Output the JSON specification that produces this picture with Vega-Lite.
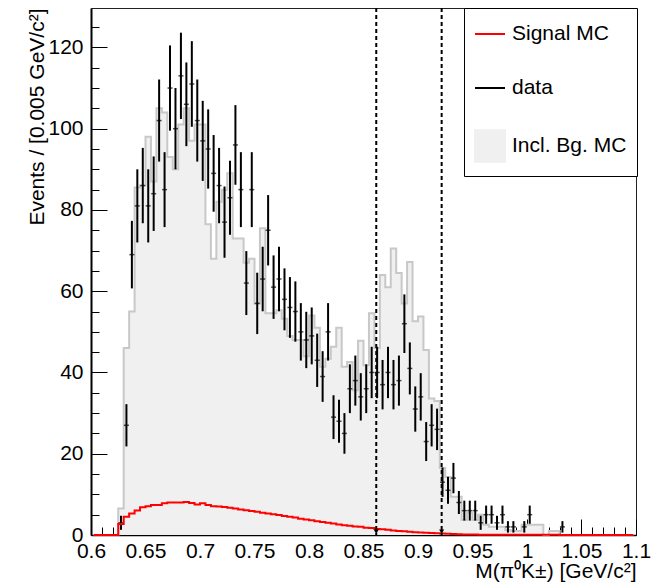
{
"$schema":"https://vega.github.io/schema/vega-lite/v6.json",
"width":545,"height":527,
"autosize":{"type":"none"},
"padding":{"left":91,"top":8,"right":26,"bottom":48},
"background":"white",
"config":{
 "font":"Liberation Sans",
 "view":{"stroke":"#222","strokeWidth":1},
 "axis":{"zindex":1,"grid":false,"labelFont":"Liberation Sans","titleFont":"Liberation Sans","labelColor":"black","titleColor":"black","domainColor":"black","tickColor":"black","labelFlush":false,"labelOverlap":false,"labelBound":false,"titleFontWeight":"normal","tickWidth":1}
},
"data":{"values":[
{"m":0.6025,"n":0,"e":0,"bg":0,"sig":0},
{"m":0.6075,"n":0,"e":0,"bg":0,"sig":0},
{"m":0.6125,"n":0,"e":0,"bg":0,"sig":0},
{"m":0.6175,"n":0,"e":0,"bg":0,"sig":0},
{"m":0.6225,"n":0,"e":0,"bg":0,"sig":0},
{"m":0.6275,"n":3,"e":1.73,"bg":6.5,"sig":2.7},
{"m":0.6325,"n":27,"e":5.2,"bg":46,"sig":4.5},
{"m":0.6375,"n":69,"e":8.31,"bg":55,"sig":5.3},
{"m":0.6425,"n":81,"e":9,"bg":85.5,"sig":6.0},
{"m":0.6475,"n":86,"e":9.27,"bg":86,"sig":6.8},
{"m":0.6525,"n":81,"e":9,"bg":98,"sig":7.1},
{"m":0.6575,"n":84,"e":9.17,"bg":87,"sig":7.4},
{"m":0.6625,"n":102,"e":10.1,"bg":105,"sig":7.4},
{"m":0.6675,"n":85,"e":9.22,"bg":104,"sig":7.8},
{"m":0.6725,"n":110,"e":10.49,"bg":93,"sig":8.0},
{"m":0.6775,"n":100,"e":10,"bg":90,"sig":8.0},
{"m":0.6825,"n":113,"e":10.63,"bg":101,"sig":8.0},
{"m":0.6875,"n":106,"e":10.3,"bg":105,"sig":8.1},
{"m":0.6925,"n":111,"e":10.54,"bg":97,"sig":7.9},
{"m":0.6975,"n":102,"e":10.1,"bg":101,"sig":7.5},
{"m":0.7025,"n":97,"e":9.85,"bg":101,"sig":7.8},
{"m":0.7075,"n":95,"e":9.75,"bg":76.5,"sig":7.4},
{"m":0.7125,"n":89,"e":9.43,"bg":68,"sig":7.1},
{"m":0.7175,"n":86,"e":9.27,"bg":82,"sig":7.0},
{"m":0.7225,"n":77,"e":8.77,"bg":85,"sig":6.9},
{"m":0.7275,"n":83,"e":9.11,"bg":89,"sig":6.7},
{"m":0.7325,"n":96,"e":9.8,"bg":73,"sig":6.5},
{"m":0.7375,"n":85,"e":9.22,"bg":73,"sig":6.3},
{"m":0.7425,"n":62,"e":7.87,"bg":67,"sig":6.1},
{"m":0.7475,"n":85,"e":9.22,"bg":68,"sig":5.9},
{"m":0.7525,"n":57,"e":7.55,"bg":57,"sig":5.7},
{"m":0.7575,"n":63,"e":7.94,"bg":75.5,"sig":5.5},
{"m":0.7625,"n":75,"e":8.66,"bg":54.6,"sig":5.3},
{"m":0.7675,"n":61,"e":7.81,"bg":54.6,"sig":5.1},
{"m":0.7725,"n":63,"e":7.94,"bg":55.3,"sig":4.9},
{"m":0.7775,"n":58,"e":7.62,"bg":53.2,"sig":4.7},
{"m":0.7825,"n":56,"e":7.48,"bg":49,"sig":4.5},
{"m":0.7875,"n":55,"e":7.42,"bg":48,"sig":4.3},
{"m":0.7925,"n":50,"e":7.07,"bg":48,"sig":4.0},
{"m":0.7975,"n":48,"e":6.93,"bg":44,"sig":3.8},
{"m":0.8025,"n":49,"e":7,"bg":54,"sig":3.6},
{"m":0.8075,"n":43,"e":6.56,"bg":51,"sig":3.4},
{"m":0.8125,"n":39,"e":6.24,"bg":41.4,"sig":3.2},
{"m":0.8175,"n":50,"e":7.07,"bg":43.4,"sig":3.0},
{"m":0.8225,"n":29,"e":5.39,"bg":46.3,"sig":2.8},
{"m":0.8275,"n":28,"e":5.29,"bg":51,"sig":2.6},
{"m":0.8325,"n":25,"e":5,"bg":41.4,"sig":2.4},
{"m":0.8375,"n":36,"e":6,"bg":42.6,"sig":2.3},
{"m":0.8425,"n":38,"e":6.16,"bg":35.6,"sig":2.1},
{"m":0.8475,"n":34,"e":5.83,"bg":47.8,"sig":2.0},
{"m":0.8525,"n":36,"e":6,"bg":41.8,"sig":1.8},
{"m":0.8575,"n":40,"e":6.32,"bg":54.6,"sig":1.7},
{"m":0.8625,"n":40,"e":6.32,"bg":46,"sig":1.5},
{"m":0.8675,"n":37,"e":6.08,"bg":64,"sig":1.4},
{"m":0.8725,"n":40,"e":6.32,"bg":61,"sig":1.3},
{"m":0.8775,"n":37,"e":6.08,"bg":70.5,"sig":1.1},
{"m":0.8825,"n":38,"e":6.16,"bg":64.5,"sig":1.0},
{"m":0.8875,"n":52,"e":7.21,"bg":57,"sig":0.9},
{"m":0.8925,"n":41,"e":6.4,"bg":67.2,"sig":0.8},
{"m":0.8975,"n":31,"e":5.57,"bg":52.6,"sig":0.7},
{"m":0.9025,"n":34,"e":5.83,"bg":53.8,"sig":0.6},
{"m":0.9075,"n":23,"e":4.8,"bg":45.5,"sig":0.55},
{"m":0.9125,"n":27,"e":5.2,"bg":33.6,"sig":0.5},
{"m":0.9175,"n":26,"e":5.1,"bg":33,"sig":0.45},
{"m":0.9225,"n":13,"e":3.61,"bg":16.5,"sig":0.4},
{"m":0.9275,"n":11,"e":3.32,"bg":14.3,"sig":0.3},
{"m":0.9325,"n":14,"e":3.74,"bg":9.4,"sig":0.25},
{"m":0.9375,"n":8,"e":2.83,"bg":9.4,"sig":0.2},
{"m":0.9425,"n":6,"e":2.45,"bg":3.7,"sig":0.15},
{"m":0.9475,"n":6,"e":2.45,"bg":5.5,"sig":0.1},
{"m":0.9525,"n":6,"e":2.45,"bg":3.7,"sig":0.1},
{"m":0.9575,"n":3,"e":1.73,"bg":5,"sig":0.05},
{"m":0.9625,"n":5,"e":2.24,"bg":2.5,"sig":0.05},
{"m":0.9675,"n":5,"e":2.24,"bg":2,"sig":0.05},
{"m":0.9725,"n":3,"e":1.73,"bg":2,"sig":0.05},
{"m":0.9775,"n":5,"e":2.24,"bg":2,"sig":0.05},
{"m":0.9825,"n":2,"e":1.41,"bg":1.2,"sig":0.05},
{"m":0.9875,"n":2,"e":1.41,"bg":1,"sig":0.05},
{"m":0.9925,"n":0,"e":0,"bg":1,"sig":0.05},
{"m":0.9975,"n":2,"e":1.41,"bg":2.5,"sig":0.05},
{"m":1.0025,"n":5,"e":2.24,"bg":2.5,"sig":0.05},
{"m":1.0075,"n":0,"e":0,"bg":2.5,"sig":0.05},
{"m":1.0125,"n":0,"e":0,"bg":2.5,"sig":0.05},
{"m":1.0175,"n":0,"e":0,"bg":0,"sig":0.05},
{"m":1.0225,"n":0,"e":0,"bg":1,"sig":0.05},
{"m":1.0275,"n":0,"e":0,"bg":1,"sig":0.05},
{"m":1.0325,"n":2,"e":1.41,"bg":0,"sig":0},
{"m":1.0375,"n":0,"e":0,"bg":0,"sig":0},
{"m":1.0425,"n":0,"e":0,"bg":0,"sig":0},
{"m":1.0475,"n":0,"e":0,"bg":0,"sig":0},
{"m":1.0525,"n":0,"e":0,"bg":0,"sig":0},
{"m":1.0575,"n":0,"e":0,"bg":0,"sig":0},
{"m":1.0625,"n":0,"e":0,"bg":0,"sig":0},
{"m":1.0675,"n":0,"e":0,"bg":0,"sig":0},
{"m":1.0725,"n":0,"e":0,"bg":0,"sig":0},
{"m":1.0775,"n":0,"e":0,"bg":0,"sig":0},
{"m":1.0825,"n":0,"e":0,"bg":0,"sig":0},
{"m":1.0875,"n":0,"e":0,"bg":0,"sig":0},
{"m":1.0925,"n":0,"e":0,"bg":0,"sig":0},
{"m":1.0975,"n":0,"e":0,"bg":0,"sig":0}
]},
"resolve":{"axis":{"x":"independent","y":"independent"}},
"layer":[
 {"mark":{"type":"area","interpolate":"step"},
  "encoding":{
   "x":{"field":"m","type":"quantitative","scale":{"domain":[0.6,1.1],"nice":false,"zero":false},
     "axis":{"orient":"bottom","values":[0.6,0.65,0.7,0.75,0.8,0.85,0.9,0.95,1,1.05,1.1],"format":"~g","tickSize":-16,"labelFontSize":21,"labelPadding":38,"labelBaseline":"alphabetic","domainWidth":1.5,
       "title":"M(π⁰K±) [GeV/c²]","titleFontSize":21,"titleAnchor":"end","titleAlign":"right","titleX":545,"titleY":42,"titleBaseline":"alphabetic"}},
   "y":{"field":"bg","type":"quantitative","scale":{"domain":[0,129.7],"nice":false},
     "axis":{"orient":"left","values":[0,20,40,60,80,100,120],"tickSize":-16,"labelFontSize":21,"labelPadding":24,"labelBaseline":"middle","domainWidth":2,
       "title":"Events / [0.005 GeV/c²]","titleFontSize":21,"titleAngle":-90,"titleAlign":"right","titleBaseline":"alphabetic","titleX":-48,"titleY":0,"titleAnchor":"end"}},
   "color":{"datum":"Incl. Bg. MC","type":"nominal",
     "scale":{"domain":["Signal MC","data","Incl. Bg. MC"],"range":["#ff0000","#000000","#f0f0f0"]},
     "legend":{"orient":"none","legendX":373,"legendY":0,"title":null,"padding":10,"strokeColor":"black","fillColor":"white",
       "labelFont":"Liberation Sans","labelFontSize":21,"labelColor":"black","symbolSize":900,"rowPadding":28,"labelOffset":6,
       "encode":{"symbols":{"update":{
         "shape":{"signal":"datum.value === 'Incl. Bg. MC' ? 'M-1,-1.05H1V1.05H-1Z' : 'stroke'"},
         "fill":{"signal":"datum.value === 'Incl. Bg. MC' ? '#f0f0f0' : 'transparent'"},
         "stroke":{"signal":"datum.value === 'Signal MC' ? '#ff0000' : (datum.value === 'data' ? '#000000' : '#c8c8c8')"},
         "strokeWidth":{"value":2},"opacity":{"value":1}}}}}}
  }},
 {"mark":{"type":"line","interpolate":"step","color":"#c8c8c8","strokeWidth":2},
  "encoding":{
   "x":{"field":"m","type":"quantitative",
     "axis":{"orient":"bottom","values":[0.61,0.62,0.63,0.64,0.66,0.67,0.68,0.69,0.71,0.72,0.73,0.74,0.76,0.77,0.78,0.79,0.81,0.82,0.83,0.84,0.86,0.87,0.88,0.89,0.91,0.92,0.93,0.94,0.96,0.97,0.98,0.99,1.01,1.02,1.03,1.04,1.06,1.07,1.08,1.09],"tickSize":-8,"labels":false,"domain":false,"title":null}},
   "y":{"field":"bg","type":"quantitative",
     "axis":{"orient":"left","values":[5,10,15,25,30,35,45,50,55,65,70,75,85,90,95,105,110,115,125],"tickSize":-8,"labels":false,"domain":false,"title":null}}
  }},
 {"transform":[{"filter":"datum.n > 0"}],
  "mark":{"type":"errorbar","thickness":2},
  "encoding":{
   "x":{"field":"m","type":"quantitative","axis":null},
   "y":{"field":"n","type":"quantitative","axis":null},
   "yError":{"field":"e"},
   "color":{"datum":"data","type":"nominal"}
  }},
 {"transform":[{"filter":"datum.n > 0"}],
  "mark":{"type":"tick","orient":"horizontal","size":5,"thickness":1.5,"color":"black"},
  "encoding":{
   "x":{"field":"m","type":"quantitative","axis":null},
   "y":{"field":"n","type":"quantitative","axis":null}
  }},
 {"mark":{"type":"line","interpolate":"step","strokeWidth":2},
  "encoding":{
   "x":{"field":"m","type":"quantitative","axis":null},
   "y":{"field":"sig","type":"quantitative","axis":null},
   "color":{"datum":"Signal MC","type":"nominal"}
  }},
 {"data":{"values":[{"cut":0.8617},{"cut":0.9217}]},
  "mark":{"type":"rule","color":"black","strokeWidth":2,"strokeDash":[4,3]},
  "encoding":{"x":{"field":"cut","type":"quantitative","axis":null}}},
 {"data":{"values":[{"cut":0.8617},{"cut":0.9217}]},
  "mark":{"type":"point","shape":"triangle-down","filled":true,"size":25,"color":"black","opacity":1},
  "encoding":{"x":{"field":"cut","type":"quantitative","axis":null},"y":{"datum":0.8,"type":"quantitative","axis":null}}}
]
}
